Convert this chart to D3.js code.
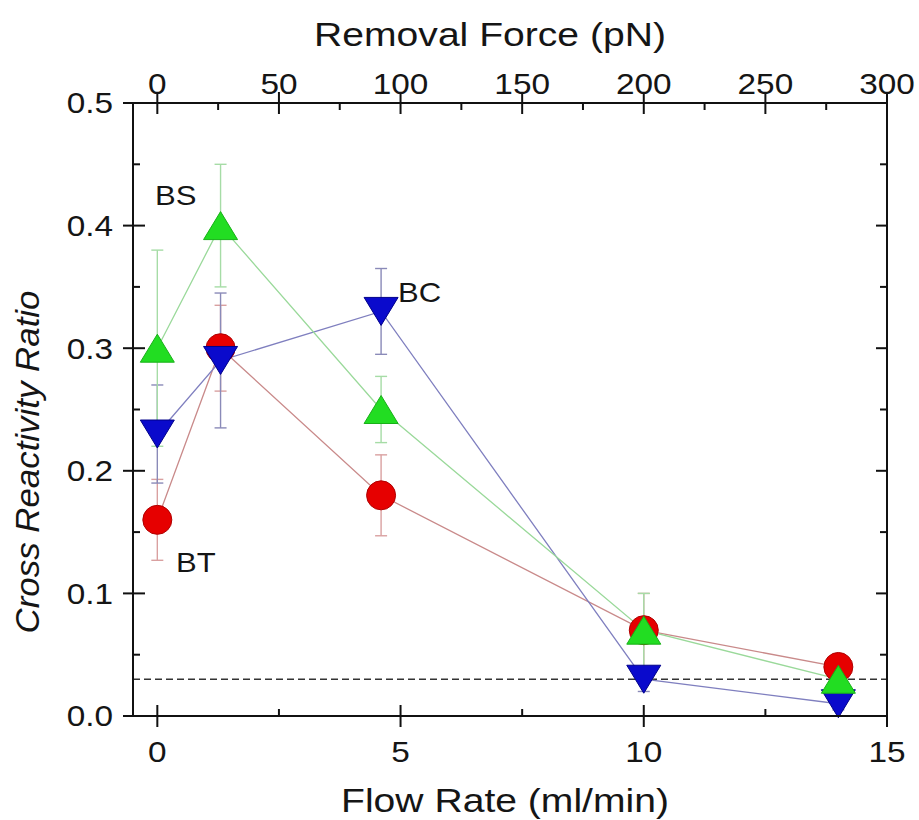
<!DOCTYPE html>
<html>
<head>
<meta charset="utf-8">
<script src="https://cdn.jsdelivr.net/npm/d3@7"></script>
<style>
  html, body { margin: 0; padding: 0; background: #fff; }
  svg { display: block; font-family: "Liberation Sans", Arial, sans-serif; }
</style>
</head>
<body>
<svg id="chart" width="919" height="820"></svg>
<script>
// Flow rate (ml/min) at which each measurement was taken
const flowRate = [0, 1.3, 4.6, 10, 14];

// Cross reactivity ratio per series
const btValues = [0.16, 0.30, 0.18, 0.07, 0.04];
const bsValues = [0.30, 0.40, 0.25, 0.07, 0.03];
const bcValues = [0.23, 0.29, 0.33, 0.03, 0.01];

// Error bar half-widths
const btErrors = [0.033, 0.035, 0.033, 0.03, 0.01];
const bsErrors = [0.08, 0.05, 0.027, 0.03, 0.01];
const bcErrors = [0.04, 0.055, 0.035, 0.01, 0.005];

// Axis ticks
const bottomTicks = [0, 5, 10, 15];
const topTicks = [0, 50, 100, 150, 200, 250, 300];
const yTicks = [0.0, 0.1, 0.2, 0.3, 0.4, 0.5];
const baselineRatio = 0.03;

(function () {
const svg = d3.select("#chart");
const pLeft = 133, pRight = 887, pTop = 103, pBottom = 716;
const stretch = 1.15; // glyphs are drawn slightly wide

const x = d3.scaleLinear().domain([-0.5, 15]).range([pLeft, pRight]);
const xTop = d3.scaleLinear().domain([-10, 300]).range([pLeft, pRight]);
const y = d3.scaleLinear().domain([0, 0.5]).range([pBottom, pTop]);

// Text helper: places a horizontally widened label at (tx, ty)
function label(parent, tx, ty, txt, size, anchor, extra) {
  const g = parent.append("g").attr("transform", `translate(${tx},${ty}) scale(${stretch},1)`);
  const t = g.append("text").attr("x", 0).attr("y", 0)
    .attr("text-anchor", anchor).attr("font-size", size).attr("fill", "#151515").text(txt);
  if (extra) extra(t);
  return t;
}

const series = [
  { name: "BT", values: btValues, errors: btErrors, shape: "circle",
    fill: "#e60000", stroke: "#b00000", line: "#c98a8a", bar: "#d9a0a0" },
  { name: "BC", values: bcValues, errors: bcErrors, shape: "down",
    fill: "#0a0acc", stroke: "#00008a", line: "#7f7fbf", bar: "#8a8ab8" },
  { name: "BS", values: bsValues, errors: bsErrors, shape: "up",
    fill: "#22dd22", stroke: "#18b018", line: "#9ad99a", bar: "#a6dca6" }
];

// Dashed baseline
svg.append("line")
  .attr("x1", pLeft).attr("x2", pRight)
  .attr("y1", y(baselineRatio)).attr("y2", y(baselineRatio))
  .attr("stroke", "#333").attr("stroke-width", 1.5)
  .attr("stroke-dasharray", "7,4");

// Connecting lines
series.forEach(s => {
  const pts = flowRate.map((f, i) => [x(f), y(s.values[i])]);
  svg.append("path")
    .attr("d", d3.line()(pts))
    .attr("fill", "none")
    .attr("stroke", s.line)
    .attr("stroke-width", 1.3);
});

// Error bars
series.forEach(s => {
  const g = svg.append("g").attr("stroke", s.bar).attr("stroke-width", 1.4);
  flowRate.forEach((f, i) => {
    const cx = x(f);
    const hi = y(s.values[i] + s.errors[i]);
    const lo = y(Math.max(0, s.values[i] - s.errors[i]));
    g.append("line").attr("x1", cx).attr("x2", cx).attr("y1", hi).attr("y2", lo);
    g.append("line").attr("x1", cx - 6).attr("x2", cx + 6).attr("y1", hi).attr("y2", hi);
    g.append("line").attr("x1", cx - 6).attr("x2", cx + 6).attr("y1", lo).attr("y2", lo);
  });
});

// Markers
series.forEach(s => {
  const g = svg.append("g");
  flowRate.forEach((f, i) => {
    const cx = x(f), cy = y(s.values[i]);
    if (s.shape === "circle") {
      g.append("circle").attr("cx", cx).attr("cy", cy).attr("r", 14.5)
        .attr("fill", s.fill).attr("stroke", s.stroke).attr("stroke-width", 1);
    } else {
      const w = 17, h = 14;
      const d = s.shape === "up"
        ? `M${cx},${cy - h}L${cx + w},${cy + h}L${cx - w},${cy + h}Z`
        : `M${cx},${cy + h}L${cx + w},${cy - h}L${cx - w},${cy - h}Z`;
      g.append("path").attr("d", d)
        .attr("fill", s.fill).attr("stroke", s.stroke).attr("stroke-width", 1);
    }
  });
});

// Series labels
[["BS", 155, 205], ["BC", 398, 302], ["BT", 176, 572]].forEach(([t, lx, ly]) => {
  label(svg, lx, ly, t, 27, "start");
});

// Frame
svg.append("rect")
  .attr("x", pLeft).attr("y", pTop)
  .attr("width", pRight - pLeft).attr("height", pBottom - pTop)
  .attr("fill", "none").attr("stroke", "#111").attr("stroke-width", 2);

const tickStroke = (g) => g.selectAll("line").attr("stroke", "#111").attr("stroke-width", 2);
const tickFont = 29;

// Bottom axis: major ticks crossing the frame, minor ticks inside
const bottomAxis = svg.append("g").attr("transform", `translate(0,${pBottom})`);
bottomTicks.forEach(v => {
  bottomAxis.append("line").attr("x1", x(v)).attr("x2", x(v)).attr("y1", -11).attr("y2", 11);
  label(bottomAxis, x(v), 46, v, tickFont, "middle");
});
d3.range(2.5, 15, 5).forEach(v => {
  bottomAxis.append("line").attr("x1", x(v)).attr("x2", x(v)).attr("y1", -7).attr("y2", 0);
});
tickStroke(bottomAxis);

// Top axis
const topAxis = svg.append("g").attr("transform", `translate(0,${pTop})`);
topTicks.forEach(v => {
  topAxis.append("line").attr("x1", xTop(v)).attr("x2", xTop(v)).attr("y1", -11).attr("y2", 11);
  label(topAxis, xTop(v), -9, v, tickFont, "middle");
});
d3.range(25, 300, 50).forEach(v => {
  topAxis.append("line").attr("x1", xTop(v)).attr("x2", xTop(v)).attr("y1", 0).attr("y2", 7);
});
tickStroke(topAxis);

// Left axis
const leftAxis = svg.append("g").attr("transform", `translate(${pLeft},0)`);
yTicks.forEach(v => {
  leftAxis.append("line").attr("x1", -10).attr("x2", 12).attr("y1", y(v)).attr("y2", y(v));
  label(leftAxis, -20, y(v), v.toFixed(1), tickFont, "end", t => t.attr("dy", "0.36em"));
});
d3.range(0.05, 0.5, 0.1).forEach(v => {
  leftAxis.append("line").attr("x1", 0).attr("x2", 7).attr("y1", y(v)).attr("y2", y(v));
});
tickStroke(leftAxis);

// Right axis: ticks pointing inward
const rightAxis = svg.append("g").attr("transform", `translate(${pRight},0)`);
yTicks.forEach(v => {
  rightAxis.append("line").attr("x1", -11).attr("x2", 0).attr("y1", y(v)).attr("y2", y(v));
});
d3.range(0.05, 0.5, 0.1).forEach(v => {
  rightAxis.append("line").attr("x1", -7).attr("x2", 0).attr("y1", y(v)).attr("y2", y(v));
});
tickStroke(rightAxis);

// Axis titles
label(svg, 490, 46, "Removal Force (pN)", 34, "middle");
label(svg, 505, 812, "Flow Rate (ml/min)", 34, "middle");
svg.append("text")
  .attr("transform", `translate(39,462) rotate(-90)`)
  .attr("text-anchor", "middle").attr("font-size", 34)
  .attr("textLength", 343).attr("lengthAdjust", "spacingAndGlyphs")
  .attr("font-style", "italic").attr("fill", "#151515")
  .text("Cross Reactivity Ratio");
})();
</script>
</body>
</html>
